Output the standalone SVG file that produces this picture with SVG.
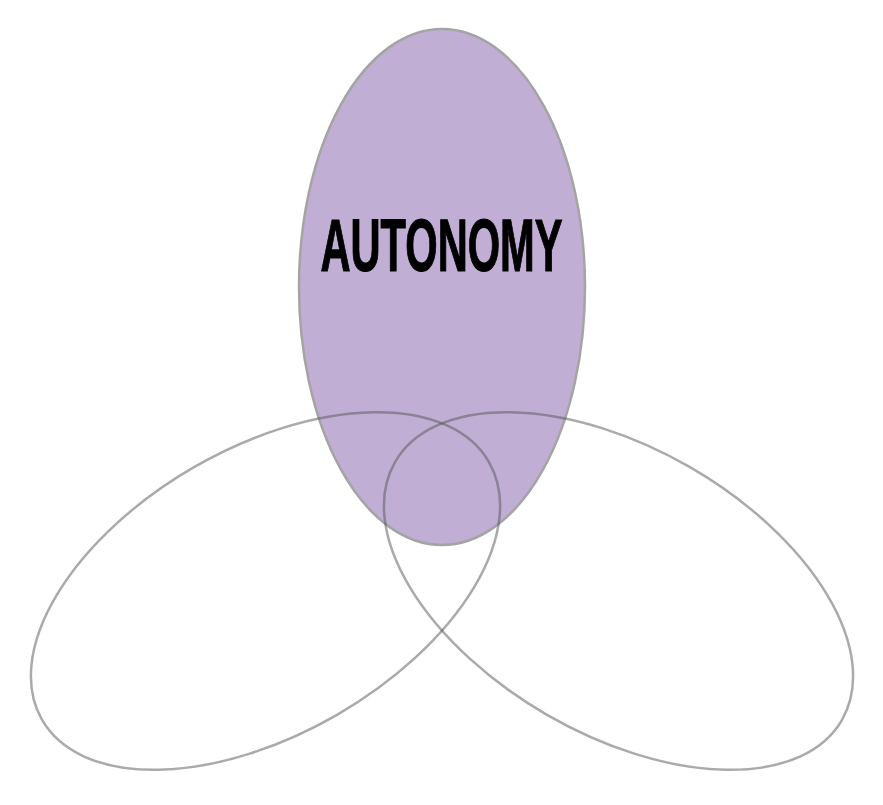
<svg xmlns="http://www.w3.org/2000/svg" width="883" height="805" viewBox="0 0 883 805">
<style>
.ring{fill:none;stroke:#555;stroke-opacity:0.5;stroke-width:2.5}
.filled{fill:#c0aed4;stroke:#a4a4a4;stroke-opacity:1}
.label{font-family:"Liberation Sans",Arial,sans-serif;font-weight:bold;font-size:74px;fill:#000;stroke:#000;stroke-width:1.2}
</style>
<rect width="883" height="805" fill="#fff"/>
<g id="autonomy">
<ellipse cx="442" cy="287" rx="143" ry="258" class="ring filled"/>
<text class="label" x="441.5" y="271" text-anchor="middle" textLength="242" lengthAdjust="spacingAndGlyphs">AUTONOMY</text>
</g>
<g id="left">
<ellipse cx="265.5" cy="591" rx="258" ry="143" transform="rotate(-30 265.5 591)" class="ring"/>
</g>
<g id="right">
<ellipse cx="618.5" cy="591" rx="258" ry="143" transform="rotate(30 618.5 591)" class="ring"/>
</g>
</svg>
